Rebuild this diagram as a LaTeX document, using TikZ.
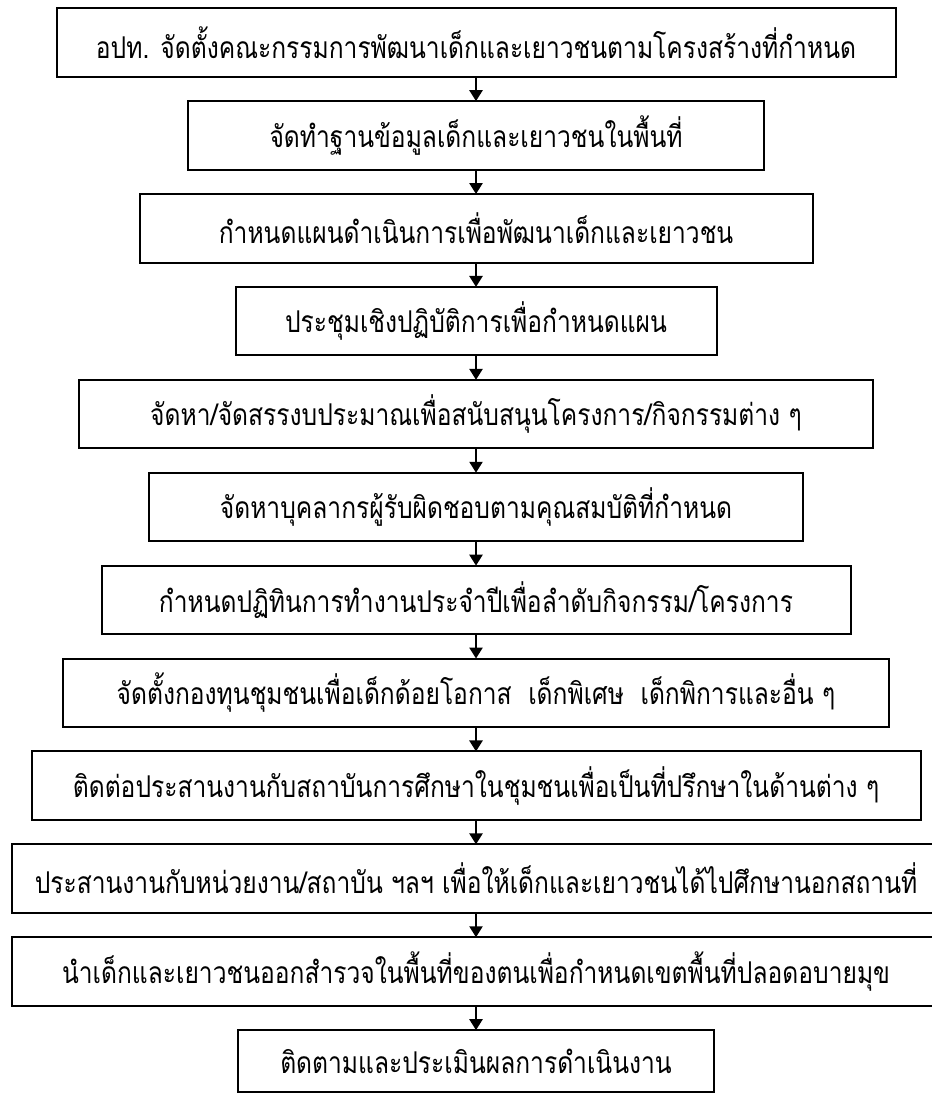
\documentclass[tikz,border=0pt]{standalone}
\usepackage{fontspec}
\newfontfamily\thaifont[Script=Thai,FakeStretch=0.82]{Loma}
\usepackage{tikz}
\usetikzlibrary{positioning}
\usetikzlibrary{arrows.meta}

\tikzset{
  stepbox/.style={draw, line width=2pt, outer sep=0pt, minimum height=68.5pt,
    inner sep=0pt, text centered, font=\thaifont\fontsize{30}{34}\selectfont},
}

\begin{document}
\begin{tikzpicture}[x=1pt, y=-1pt]
    \useasboundingbox (0,0) rectangle (932,1093);
    % nodes %
    \node[stepbox, minimum width=839pt] (com) at (476,42.5) {อปท. จัดตั้งคณะกรรมการพัฒนาเด็กและเยาวชนตามโครงสร้างที่กำหนด};
    \node[stepbox, minimum width=576pt, below=24.4pt of com] (data) {จัดทำฐานข้อมูลเด็กและเยาวชนในพื้นที่};
    \node[stepbox, minimum width=673pt, below=24.4pt of data] (plan) {กำหนดแผนดำเนินการเพื่อพัฒนาเด็กและเยาวชน};
    \node[stepbox, minimum width=481pt, below=24.4pt of plan] (meet) {ประชุมเชิงปฏิบัติการเพื่อกำหนดแผน};
    \node[stepbox, minimum width=794pt, below=24.4pt of meet] (bud) {จัดหา/จัดสรรงบประมาณเพื่อสนับสนุนโครงการ/กิจกรรมต่าง ๆ};
    \node[stepbox, minimum width=654pt, below=24.4pt of bud] (staff) {จัดหาบุคลากรผู้รับผิดชอบตามคุณสมบัติที่กำหนด};
    \node[stepbox, minimum width=749pt, below=24.4pt of staff] (cal) {กำหนดปฏิทินการทำงานประจำปีเพื่อลำดับกิจกรรม/โครงการ};
    \node[stepbox, minimum width=826pt, below=24.4pt of cal] (fund) {จัดตั้งกองทุนชุมชนเพื่อเด็กด้อยโอกาส\ \ เด็กพิเศษ\ \ เด็กพิการและอื่น ๆ};
    \node[stepbox, minimum width=889pt, below=24.4pt of fund] (edu) {ติดต่อประสานงานกับสถาบันการศึกษาในชุมชนเพื่อเป็นที่ปรึกษาในด้านต่าง ๆ};
    \node[stepbox, minimum width=928pt, below=24.4pt of edu] (trip) {ประสานงานกับหน่วยงาน/สถาบัน ฯลฯ เพื่อให้เด็กและเยาวชนได้ไปศึกษานอกสถานที่};
    \node[stepbox, minimum width=928pt, below=24.4pt of trip] (zone) {นำเด็กและเยาวชนออกสำรวจในพื้นที่ของตนเพื่อกำหนดเขตพื้นที่ปลอดอบายมุข};
    \node[stepbox, minimum width=476pt, minimum height=62pt, below=24.4pt of zone] (eval) {ติดตามและประเมินผลการดำเนินงาน};
    % edges %
    \draw[-{Triangle[width=13pt,length=11pt]}, line width=2.5] (com) -- (data);
    \draw[-{Triangle[width=13pt,length=11pt]}, line width=2.5] (data) -- (plan);
    \draw[-{Triangle[width=13pt,length=11pt]}, line width=2.5] (plan) -- (meet);
    \draw[-{Triangle[width=13pt,length=11pt]}, line width=2.5] (meet) -- (bud);
    \draw[-{Triangle[width=13pt,length=11pt]}, line width=2.5] (bud) -- (staff);
    \draw[-{Triangle[width=13pt,length=11pt]}, line width=2.5] (staff) -- (cal);
    \draw[-{Triangle[width=13pt,length=11pt]}, line width=2.5] (cal) -- (fund);
    \draw[-{Triangle[width=13pt,length=11pt]}, line width=2.5] (fund) -- (edu);
    \draw[-{Triangle[width=13pt,length=11pt]}, line width=2.5] (edu) -- (trip);
    \draw[-{Triangle[width=13pt,length=11pt]}, line width=2.5] (trip) -- (zone);
    \draw[-{Triangle[width=13pt,length=11pt]}, line width=2.5] (zone) -- (eval);
\end{tikzpicture}
\end{document}
